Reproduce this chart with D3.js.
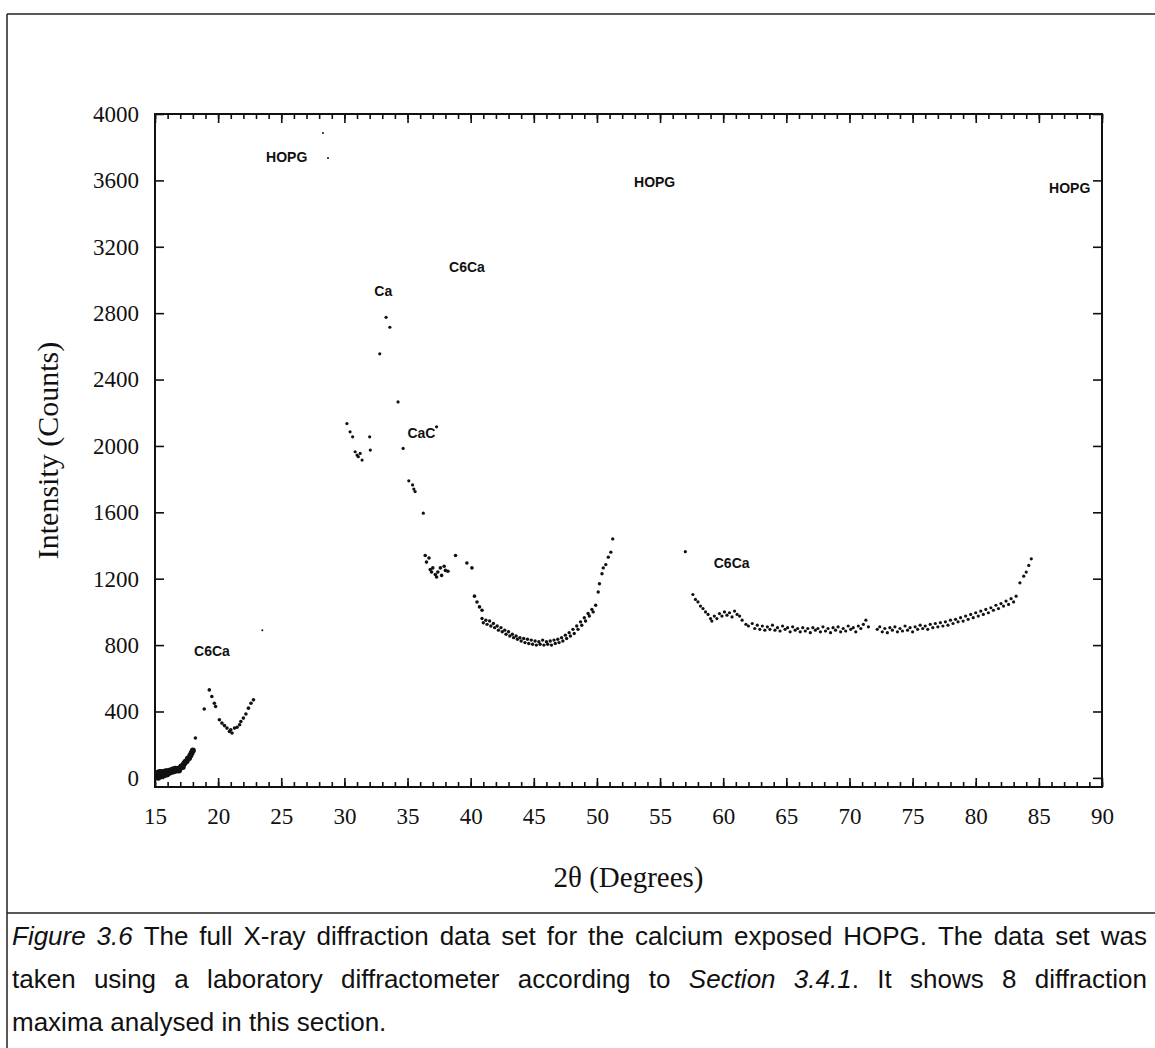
<!DOCTYPE html>
<html>
<head>
<meta charset="utf-8">
<script src="https://cdn.jsdelivr.net/npm/d3@7/dist/d3.min.js"></script>
<style>
  html, body { margin: 0; padding: 0; background: #fff; }
  svg { display: block; }
</style>
</head>
<body>
<svg id="chart" width="1155" height="1048"></svg>
<script>
// ---------------- DATA ----------------
const xTicks = [15, 20, 25, 30, 35, 40, 45, 50, 55, 60, 65, 70, 75, 80, 85, 90];
const yTicks = [0, 400, 800, 1200, 1600, 2000, 2400, 2800, 3200, 3600, 4000];

// [2θ (deg), intensity (counts)]
const lowAngle = [[15.0,20],[15.05,5],[15.1,30],[15.15,10],[15.2,25],[15.25,0],[15.3,20],[15.35,35],[15.4,10],[15.45,25],[15.5,15],[15.55,35],[15.6,20],[15.65,30],[15.7,15],[15.75,35],[15.8,25],[15.85,40],[15.9,30],[15.95,20],[16.0,40],[16.1,30],[16.2,45],[16.3,35],[16.4,50],[16.5,40],[16.6,55],[16.7,45],[16.8,55],[16.9,45],[17.0,60],[17.1,70],[17.2,65],[17.3,85],[17.4,95],[17.5,100],[17.6,115],[17.7,120],[17.8,135],[17.9,150],[18.0,165]];
const peak19 = [[18.2,240],[18.9,415],[19.3,530],[19.5,490],[19.7,450],[19.8,430],[20.1,350],[20.3,330],[20.5,315],[20.7,300],[20.9,280],[21.0,290],[21.1,270],[21.3,300],[21.5,305],[21.7,320],[21.8,340],[22.0,360],[22.2,385],[22.4,420],[22.6,450],[22.8,470]];
const hopg002 = [[23.5,890],[28.3,3885],[28.7,3735]];
const caRegion = [[30.2,2135],[30.45,2085],[30.65,2055],[30.85,1965],[31.0,1945],[31.1,1935],[31.25,1955],[31.4,1915],[32.0,2055],[32.05,1975],[32.8,2555],[33.3,2775],[33.6,2715],[34.25,2265],[34.65,1985],[35.1,1790],[35.4,1765],[35.5,1740],[35.6,1725],[36.25,1595],[37.3,2115]];
const c6caRegion = [[36.4,1340],[36.5,1300],[36.7,1325],[36.8,1255],[36.9,1240],[37.0,1265],[37.2,1225],[37.3,1210],[37.4,1240],[37.6,1265],[37.7,1220],[37.9,1275],[38.0,1250],[38.2,1245],[38.8,1340],[39.7,1295],[40.1,1265],[40.3,1095],[40.5,1060],[40.7,1030],[40.9,1010]];
const valley45 = [[40.9,960],[41.0,935],[41.2,950],[41.3,925],[41.5,945],[41.6,915],[41.8,930],[41.9,905],[42.1,915],[42.2,890],[42.4,905],[42.5,880],[42.7,890],[42.8,865],[43.0,880],[43.1,855],[43.3,865],[43.4,845],[43.6,855],[43.7,835],[43.9,845],[44.0,825],[44.2,840],[44.3,815],[44.5,835],[44.6,810],[44.8,830],[44.9,805],[45.1,825],[45.2,800],[45.4,820],[45.5,805],[45.7,830],[45.8,800],[46.0,820],[46.1,805],[46.3,825],[46.4,800],[46.6,830],[46.7,810],[46.9,835],[47.0,815],[47.2,845],[47.3,825],[47.5,860],[47.6,840],[47.8,875],[47.9,855],[48.1,895],[48.2,870],[48.4,915],[48.5,895],[48.7,940],[48.8,920],[49.0,965],[49.1,945],[49.3,990],[49.4,975],[49.6,1015],[49.7,1000],[49.9,1040],[50.1,1120],[50.2,1170],[50.4,1230],[50.5,1265],[50.7,1285],[50.9,1330],[51.1,1360],[51.25,1440]];
const plateau70 = [[57.0,1363],[57.6,1105],[57.8,1075],[58.0,1060],[58.2,1035],[58.4,1020],[58.6,1000],[58.8,985],[59.0,960],[59.1,945],[59.3,975],[59.5,960],[59.7,990],[59.9,975],[60.1,1000],[60.3,980],[60.5,995],[60.7,970],[60.9,1005],[61.1,985],[61.3,975],[61.5,950],[61.8,925],[62.0,915],[62.3,930],[62.5,900],[62.7,920],[62.9,895],[63.1,915],[63.3,890],[63.5,910],[63.7,895],[63.9,920],[64.1,890],[64.3,905],[64.5,885],[64.7,915],[64.9,895],[65.1,905],[65.3,880],[65.5,910],[65.7,890],[65.9,900],[66.1,880],[66.3,905],[66.5,885],[66.7,900],[66.9,875],[67.1,905],[67.3,890],[67.5,900],[67.7,880],[67.9,910],[68.1,885],[68.3,900],[68.5,875],[68.7,905],[68.9,890],[69.1,910],[69.3,880],[69.5,900],[69.7,885],[69.9,915],[70.1,895],[70.3,905],[70.5,880],[70.7,915],[70.9,900],[71.1,925],[71.3,950],[71.5,910],[72.2,895],[72.4,910],[72.6,880],[72.8,900],[73.0,875],[73.2,905],[73.4,890],[73.6,910],[73.8,880],[74.0,900],[74.2,885],[74.4,915],[74.6,890],[74.8,905],[75.0,880],[75.2,910],[75.4,895],[75.6,920],[75.8,900],[76.0,915],[76.2,895],[76.4,925],[76.6,905],[76.8,930],[77.0,910],[77.2,935],[77.4,915],[77.6,940],[77.8,920],[78.0,950],[78.2,930],[78.4,955],[78.6,940],[78.8,965],[79.0,945],[79.2,975],[79.4,955],[79.6,985],[79.8,965],[80.0,995],[80.2,975],[80.4,1005],[80.6,985],[80.8,1015],[81.0,995],[81.2,1025],[81.4,1010],[81.6,1040],[81.8,1020],[82.0,1050],[82.2,1035],[82.4,1065],[82.6,1045],[82.8,1080],[83.0,1060],[83.2,1095],[83.5,1175],[83.8,1215],[84.0,1240],[84.2,1280],[84.4,1320]];

// peak annotations: [text, 2θ, counts]
const peakLabels = [
  ["HOPG", 25.43, 3743],
  ["HOPG", 54.57, 3592],
  ["HOPG", 87.44, 3552],
  ["Ca", 33.08, 2935],
  ["C6Ca", 39.71, 3080],
  ["CaC", 36.1, 2078],
  ["C6Ca", 19.51, 767],
  ["C6Ca", 60.67, 1293]
];

const xTitle = "2\u03B8 (Degrees)";
const yTitle = "Intensity (Counts)";
const captionLines = [
  "*Figure 3.6* The full X-ray diffraction data set for the calcium exposed HOPG. The data set was",
  "taken using a laboratory diffractometer according to *Section 3.4.1*. It shows 8 diffraction",
  "maxima analysed in this section."
];

// ---------------- DRAWING ----------------
const svg = d3.select("#chart");
svg.append("rect").attr("width", 1155).attr("height", 1048).attr("fill", "#fff");

const L = 155, R = 1102, T = 114, B = 787;
const x = d3.scaleLinear().domain([15, 90]).range([L, R]);
const y = d3.scaleLinear().domain([-55, 4000]).range([B, T]);

const serif = "'Liberation Serif','Times New Roman',serif";
const sans = "'Liberation Sans',Arial,sans-serif";

// outer figure frame
const frame = svg.append("g").attr("stroke", "#222").attr("stroke-width", 1.5).attr("fill", "none");
frame.append("line").attr("x1", 7).attr("y1", 14).attr("x2", 1155).attr("y2", 14);
frame.append("line").attr("x1", 7).attr("y1", 14).attr("x2", 7).attr("y2", 1048);
frame.append("line").attr("x1", 7).attr("y1", 913).attr("x2", 1155).attr("y2", 913);

// clip
svg.append("clipPath").attr("id", "plotclip").append("rect")
  .attr("x", L).attr("y", T).attr("width", R - L).attr("height", B - T);

// axes
function styleAxis(g) {
  g.select(".domain").remove();
  g.selectAll(".tick line").attr("stroke", "#111").attr("stroke-width", 1.6);
}
const minorX = d3.range(15, 91, 1);
svg.append("g").attr("transform", `translate(0,${B})`)
  .call(d3.axisBottom(x).tickValues(minorX).tickSizeInner(-5).tickSizeOuter(0).tickFormat(""))
  .call(styleAxis);
svg.append("g").attr("transform", `translate(0,${T})`)
  .call(d3.axisTop(x).tickValues(minorX).tickSizeInner(-5).tickSizeOuter(0).tickFormat(""))
  .call(styleAxis);
const xb = svg.append("g").attr("transform", `translate(0,${B})`)
  .call(d3.axisBottom(x).tickValues(xTicks).tickSizeInner(-9).tickSizeOuter(0).tickPadding(21).tickFormat(d3.format("d")))
  .call(styleAxis);
xb.selectAll("text").attr("font-family", serif).attr("font-size", 23).attr("fill", "#111");
svg.append("g").attr("transform", `translate(0,${T})`)
  .call(d3.axisTop(x).tickValues(xTicks).tickSizeInner(-9).tickSizeOuter(0).tickFormat(""))
  .call(styleAxis);
const yl = svg.append("g").attr("transform", `translate(${L},0)`)
  .call(d3.axisLeft(y).tickValues(yTicks).tickSizeInner(-9).tickSizeOuter(0).tickPadding(16).tickFormat(d3.format("d")))
  .call(styleAxis);
yl.selectAll("text").attr("font-family", serif).attr("font-size", 23).attr("fill", "#111");
svg.append("g").attr("transform", `translate(${R},0)`)
  .call(d3.axisRight(y).tickValues(yTicks).tickSizeInner(-9).tickSizeOuter(0).tickFormat(""))
  .call(styleAxis);

// plot frame
svg.append("rect").attr("x", L).attr("y", T).attr("width", R - L).attr("height", B - T)
  .attr("fill", "none").attr("stroke", "#111").attr("stroke-width", 2);

// points
const pts = svg.append("g").attr("clip-path", "url(#plotclip)").attr("fill", "#111");
const groups = [
  {data: lowAngle, r: 3},
  {data: peak19, r: 1.8},
  {data: hopg002, r: 1},
  {data: caRegion, r: 1.6},
  {data: c6caRegion, r: 1.8},
  {data: valley45, r: 1.7},
  {data: plateau70, r: 1.6}
];
groups.forEach(gp => {
  pts.selectAll(null).data(gp.data).enter().append("circle")
    .attr("cx", d => x(d[0])).attr("cy", d => y(d[1])).attr("r", gp.r);
});

// peak labels
svg.append("g").selectAll("text").data(peakLabels).enter().append("text")
  .attr("x", d => x(d[1])).attr("y", d => y(d[2]))
  .attr("text-anchor", "middle").attr("dominant-baseline", "central")
  .attr("font-family", sans).attr("font-weight", "bold").attr("font-size", 14).attr("fill", "#111")
  .text(d => d[0]);

// axis titles
svg.append("text").attr("transform", `translate(47,${(T + B) / 2}) rotate(-90)`)
  .attr("text-anchor", "middle").attr("dominant-baseline", "central")
  .attr("font-family", serif).attr("font-size", 30).attr("fill", "#111").text(yTitle);
svg.append("text").attr("x", (L + R) / 2).attr("y", 877)
  .attr("text-anchor", "middle").attr("dominant-baseline", "central")
  .attr("font-family", serif).attr("font-size", 29).attr("fill", "#111").text(xTitle);

// caption (justified, sized so the first line sets with normal word spacing)
const capLeft = 12, capRight = 1147, capBase = [945, 988, 1031];
function parseWords(line) {
  const words = [];
  let italic = false, cur = [], seg = "";
  const pushSeg = () => { if (seg.length) { cur.push([seg, italic]); seg = ""; } };
  for (const ch of line) {
    if (ch === "*") { pushSeg(); italic = !italic; }
    else if (ch === " ") { pushSeg(); if (cur.length) words.push(cur); cur = []; }
    else seg += ch;
  }
  pushSeg(); if (cur.length) words.push(cur);
  return words;
}
function makeWords(words, fs, yb) {
  return words.map(w => {
    const t = svg.append("text").attr("y", yb)
      .attr("font-family", sans).attr("font-size", fs).attr("fill", "#111");
    w.forEach(s => t.append("tspan").attr("font-style", s[1] ? "italic" : "normal").text(s[0]));
    return t;
  });
}
// measure first line at a probe size
const probeFs = 20;
const probe = makeWords(parseWords(captionLines[0]), probeFs, -100);
const probeW = d3.sum(probe, n => n.node().getComputedTextLength()) + (probe.length - 1) * 0.278 * probeFs;
probe.forEach(n => n.remove());
const capFont = Math.min(26, probeFs * (capRight - capLeft) / probeW);

captionLines.forEach((line, i) => {
  const nodes = makeWords(parseWords(line), capFont, capBase[i]);
  const widths = nodes.map(n => n.node().getComputedTextLength());
  const total = d3.sum(widths);
  const justify = i < captionLines.length - 1;
  const gap = justify ? (capRight - capLeft - total) / (nodes.length - 1) : capFont * 0.278;
  let cx = capLeft;
  nodes.forEach((n, k) => { n.attr("x", cx); cx += widths[k] + gap; });
});
</script>
</body>
</html>
